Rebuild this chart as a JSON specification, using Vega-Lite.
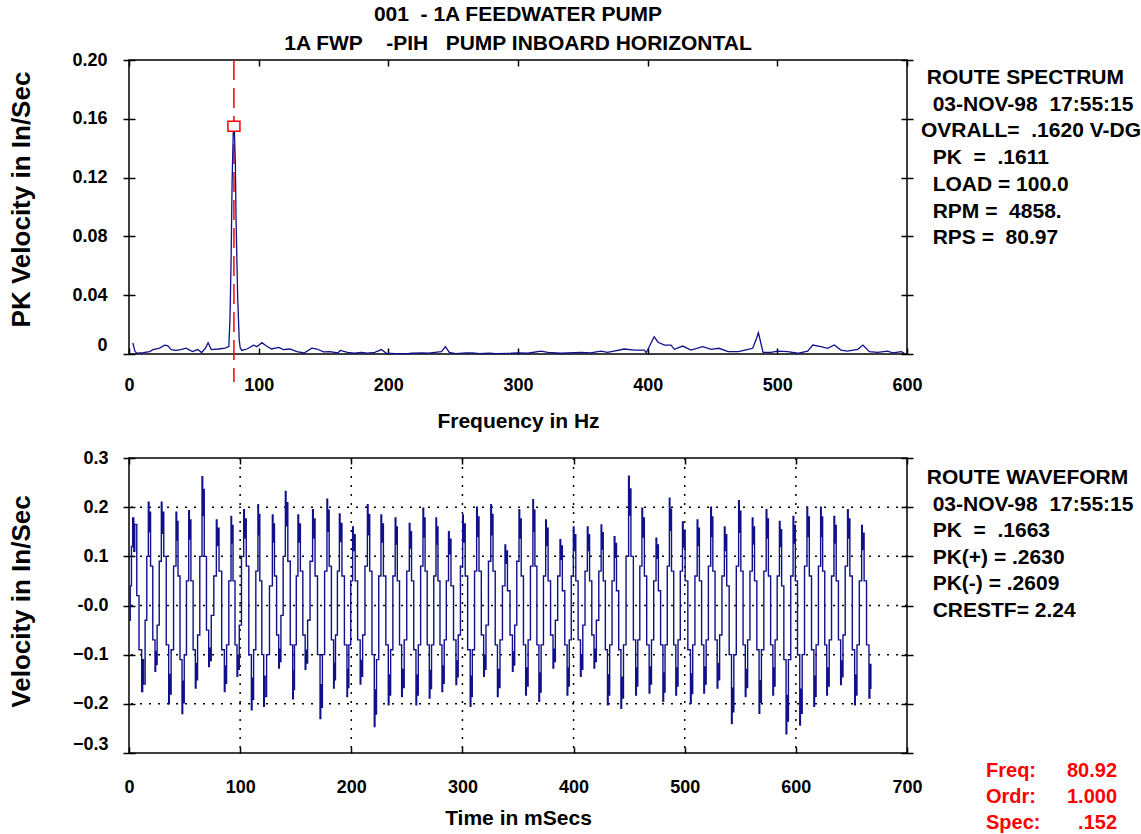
{
  "$schema": "https://vega.github.io/schema/vega-lite/v6.json",
  "background": "white",
  "padding": {"left": 7, "top": 3, "right": 5, "bottom": 5},
  "spacing": 16,
  "config": {
    "font": "Liberation Sans",
    "view": {"stroke": "black", "strokeWidth": 1.5},
    "axis": {
      "labelFont": "Liberation Sans", "labelFontSize": 18, "labelFontWeight": "bold", "labelColor": "black",
      "titleFont": "Liberation Sans", "titleFontSize": 21, "titleFontWeight": "bold", "titleColor": "black",
      "tickColor": "black", "tickWidth": 1.5, "domain": false, "grid": false
    }
  },
  "datasets": {
    "spectrum": [{"f":3,"v":0.0075},{"f":4.5,"v":0.002},{"f":6,"v":0.0005},{"f":11,"v":0.001},{"f":16,"v":0.0016},{"f":18.5,"v":0.003},{"f":23.6,"v":0.004},{"f":27.5,"v":0.006},{"f":30,"v":0.0055},{"f":32.6,"v":0.003},{"f":36,"v":0.0025},{"f":40,"v":0.003},{"f":44,"v":0.004},{"f":49,"v":0.0016},{"f":53,"v":0.003},{"f":56,"v":0.001},{"f":59,"v":0.004},{"f":61,"v":0.0077},{"f":63.5,"v":0.003},{"f":69,"v":0.0034},{"f":74,"v":0.004},{"f":77,"v":0.005},{"f":77.9,"v":0.025},{"f":78.7,"v":0.062},{"f":79.5,"v":0.116},{"f":80.4,"v":0.151},{"f":81.3,"v":0.151},{"f":82,"v":0.131},{"f":82.6,"v":0.09},{"f":83.8,"v":0.039},{"f":85,"v":0.0095},{"f":85.8,"v":0.004},{"f":87,"v":0.0024},{"f":91,"v":0.0034},{"f":96,"v":0.006},{"f":98.6,"v":0.005},{"f":102.5,"v":0.0077},{"f":106,"v":0.0054},{"f":110,"v":0.0034},{"f":115.5,"v":0.0045},{"f":119,"v":0.003},{"f":124,"v":0.0034},{"f":129.5,"v":0.0016},{"f":135,"v":0.0007},{"f":141,"v":0.004},{"f":145,"v":0.0034},{"f":150,"v":0.0014},{"f":155,"v":0.0016},{"f":161,"v":0.0007},{"f":163,"v":0.0024},{"f":168.5,"v":0.0011},{"f":174,"v":0.0005},{"f":179,"v":0.0011},{"f":184,"v":0.0005},{"f":189.5,"v":0.0011},{"f":194.6,"v":0.003},{"f":198.5,"v":0.0005},{"f":205,"v":0.0002},{"f":215,"v":0.0002},{"f":218,"v":0.0005},{"f":226,"v":0.0008},{"f":231,"v":0.0005},{"f":236,"v":0.0011},{"f":241,"v":0.0016},{"f":244,"v":0.005},{"f":247,"v":0.0011},{"f":252,"v":0.0002},{"f":260,"v":0.0008},{"f":265,"v":0.0008},{"f":270,"v":0.0002},{"f":278,"v":0.0005},{"f":283,"v":0.0002},{"f":294.6,"v":0.0005},{"f":300,"v":0.0008},{"f":307.5,"v":0.0005},{"f":317.7,"v":0.002},{"f":323,"v":0.0011},{"f":333,"v":0.0005},{"f":348.6,"v":0.0011},{"f":356,"v":0.0008},{"f":364,"v":0.002},{"f":369,"v":0.0011},{"f":374,"v":0.002},{"f":382,"v":0.0034},{"f":389.7,"v":0.0027},{"f":397.5,"v":0.0027},{"f":398.8,"v":0.0008},{"f":400,"v":0.0027},{"f":402.6,"v":0.0075},{"f":405,"v":0.0118},{"f":408,"v":0.008},{"f":413,"v":0.006},{"f":418,"v":0.0061},{"f":420.6,"v":0.0032},{"f":427,"v":0.0054},{"f":433.4,"v":0.0027},{"f":442.4,"v":0.005},{"f":449,"v":0.0032},{"f":455,"v":0.0039},{"f":462,"v":0.0016},{"f":470,"v":0.0016},{"f":477.5,"v":0.0032},{"f":481,"v":0.0039},{"f":484,"v":0.0107},{"f":485.4,"v":0.0145},{"f":487,"v":0.0085},{"f":489,"v":0.0011},{"f":495,"v":0.0011},{"f":500.3,"v":0.002},{"f":508,"v":0.0016},{"f":515.6,"v":0.0005},{"f":523.4,"v":0.002},{"f":527.3,"v":0.0061},{"f":533.6,"v":0.005},{"f":538.8,"v":0.0039},{"f":544,"v":0.0061},{"f":549,"v":0.0027},{"f":554,"v":0.002},{"f":562,"v":0.0032},{"f":566,"v":0.0061},{"f":571,"v":0.0016},{"f":577.4,"v":0.0011},{"f":585,"v":0.002},{"f":589,"v":0.0008},{"f":595.6,"v":0.0016},{"f":598,"v":0.0005}],
    "wave": [{"t":0,"v":-0.03},{"t":1.1,"v":0.04},{"t":2.2,"v":0.12},
      {"t":3.3,"v":0.178},{"t":4.3,"v":0.11},{"t":5.2,"v":0.165},{"t":7.0,"v":0.02},{"t":9.0,"v":-0.09},
      {"t":11.4,"v":-0.175},{"t":12.3,"v":-0.11},{"t":13.0,"v":-0.16},{"t":14.5,"v":-0.03},{"t":16.0,"v":0.1},
      {"t":17.4,"v":0.21},{"t":18,"v":0.15},{"t":18.6,"v":0.19},{"t":19.4,"v":0.08},{"t":21.4,"v":-0.07},
      {"t":23.4,"v":-0.134},{"t":24,"v":-0.094},{"t":24.6,"v":-0.12},{"t":25.3,"v":-0.04},{"t":27.2,"v":0.09},
      {"t":29.1,"v":0.21},{"t":29.7,"v":0.147},{"t":30.3,"v":0.19},{"t":31.3,"v":0.1},{"t":33.5,"v":-0.08},
      {"t":35.7,"v":-0.2},{"t":36.3,"v":-0.14},{"t":36.9,"v":-0.18},{"t":37.9,"v":-0.09},{"t":40.1,"v":0.08},
      {"t":42.3,"v":0.19},{"t":42.9,"v":0.133},{"t":43.4,"v":0.171},{"t":44.1,"v":0.06},{"t":45.9,"v":-0.11},
      {"t":47.7,"v":-0.22},{"t":48.3,"v":-0.154},{"t":48.9,"v":-0.198},{"t":49.7,"v":-0.1},{"t":51.7,"v":0.05},
      {"t":53.7,"v":0.193},{"t":54.3,"v":0.135},{"t":54.9,"v":0.174},{"t":55.7,"v":0.05},{"t":57.7,"v":-0.09},
      {"t":59.7,"v":-0.168},{"t":60.3,"v":-0.118},{"t":60.9,"v":-0.151},{"t":61.7,"v":-0.06},{"t":63.7,"v":0.1},
      {"t":65.7,"v":0.262},{"t":66.3,"v":0.183},{"t":66.9,"v":0.236},{"t":67.7,"v":0.1},{"t":69.7,"v":-0.05},
      {"t":71.7,"v":-0.124},{"t":72.3,"v":-0.087},{"t":72.9,"v":-0.112},{"t":74,"v":-0.02},{"t":76.3,"v":0.06},
      {"t":78.6,"v":0.174},{"t":79.2,"v":0.122},{"t":79.8,"v":0.157},{"t":81,"v":0.07},{"t":83.4,"v":-0.09},
      {"t":85.8,"v":-0.175},{"t":86.4,"v":-0.123},{"t":87,"v":-0.158},{"t":87.8,"v":-0.08},{"t":89.8,"v":0.05},
      {"t":91.8,"v":0.181},{"t":92.3,"v":0.127},{"t":92.9,"v":0.163},{"t":93.6,"v":0.05},{"t":95.4,"v":-0.08},
      {"t":97.2,"v":-0.144},{"t":97.8,"v":-0.101},{"t":98.4,"v":-0.13},{"t":99.2,"v":-0.04},{"t":101.2,"v":0.1},
      {"t":103.2,"v":0.195},{"t":103.8,"v":0.137},{"t":104.4,"v":0.176},{"t":105.5,"v":0.08},{"t":107.8,"v":-0.1},
      {"t":110.1,"v":-0.212},{"t":110.7,"v":-0.148},{"t":111.3,"v":-0.191},{"t":112.1,"v":-0.09},{"t":114.1,"v":0.07},
      {"t":116,"v":0.205},{"t":116.5,"v":0.144},{"t":117,"v":0.185},{"t":117.7,"v":0.05},{"t":119.5,"v":-0.1},
      {"t":121.2,"v":-0.205},{"t":121.8,"v":-0.144},{"t":122.4,"v":-0.185},{"t":123.8,"v":-0.1},{"t":126.4,"v":0.04},
      {"t":129,"v":0.184},{"t":129.6,"v":0.129},{"t":130.2,"v":0.166},{"t":130.9,"v":0.06},{"t":132.8,"v":-0.06},
      {"t":134.7,"v":-0.127},{"t":135.3,"v":-0.089},{"t":135.9,"v":-0.114},{"t":136.7,"v":-0.02},{"t":138.7,"v":0.1},
      {"t":140.7,"v":0.232},{"t":141.3,"v":0.162},{"t":141.9,"v":0.209},{"t":142.9,"v":0.09},{"t":145.1,"v":-0.08},
      {"t":147.3,"v":-0.19},{"t":147.8,"v":-0.133},{"t":148.3,"v":-0.171},{"t":148.9,"v":-0.08},{"t":150.5,"v":0.06},
      {"t":152,"v":0.184},{"t":152.6,"v":0.129},{"t":153.2,"v":0.166},{"t":154.2,"v":0.07},{"t":156.4,"v":-0.06},
      {"t":158.5,"v":-0.13},{"t":159.1,"v":-0.091},{"t":159.7,"v":-0.117},{"t":160.7,"v":-0.03},{"t":162.9,"v":0.09},
      {"t":165.2,"v":0.195},{"t":165.8,"v":0.137},{"t":166.4,"v":0.176},{"t":167.4,"v":0.06},{"t":169.6,"v":-0.1},
      {"t":171.9,"v":-0.23},{"t":172.5,"v":-0.161},{"t":173.1,"v":-0.207},{"t":174,"v":-0.1},{"t":176,"v":0.07},
      {"t":178.1,"v":0.216},{"t":178.7,"v":0.151},{"t":179.3,"v":0.194},{"t":180.1,"v":0.08},{"t":182.1,"v":-0.07},
      {"t":184.1,"v":-0.168},{"t":184.6,"v":-0.118},{"t":185.1,"v":-0.151},{"t":185.8,"v":-0.06},{"t":187.5,"v":0.07},
      {"t":189.3,"v":0.186},{"t":189.9,"v":0.13},{"t":190.5,"v":0.167},{"t":191.6,"v":0.06},{"t":193.8,"v":-0.08},
      {"t":196.1,"v":-0.185},{"t":196.6,"v":-0.13},{"t":197.1,"v":-0.167},{"t":197.8,"v":-0.08},{"t":199.5,"v":0.05},
      {"t":201.2,"v":0.16},{"t":201.8,"v":0.112},{"t":202.4,"v":0.144},{"t":203.5,"v":0.05},{"t":205.7,"v":-0.07},
      {"t":208,"v":-0.16},{"t":208.6,"v":-0.112},{"t":209.2,"v":-0.144},{"t":210.2,"v":-0.06},{"t":212.3,"v":0.08},
      {"t":214.5,"v":0.205},{"t":215.1,"v":0.144},{"t":215.7,"v":0.185},{"t":216.6,"v":0.07},{"t":218.6,"v":-0.1},
      {"t":220.7,"v":-0.246},{"t":221.3,"v":-0.172},{"t":221.9,"v":-0.221},{"t":222.7,"v":-0.11},{"t":224.7,"v":0.06},
      {"t":226.7,"v":0.184},{"t":227.3,"v":0.129},{"t":227.9,"v":0.166},{"t":228.9,"v":0.06},{"t":231.1,"v":-0.08},
      {"t":233.3,"v":-0.202},{"t":233.9,"v":-0.141},{"t":234.5,"v":-0.182},{"t":235.4,"v":-0.09},{"t":237.4,"v":0.06},
      {"t":239.5,"v":0.178},{"t":240.1,"v":0.125},{"t":240.6,"v":0.16},{"t":241.4,"v":0.05},{"t":243.4,"v":-0.08},
      {"t":245.3,"v":-0.185},{"t":245.9,"v":-0.13},{"t":246.5,"v":-0.167},{"t":247.6,"v":-0.07},{"t":249.9,"v":0.07},
      {"t":252.2,"v":0.167},{"t":252.8,"v":0.117},{"t":253.4,"v":0.15},{"t":254.2,"v":0.05},{"t":256.2,"v":-0.09},
      {"t":258.2,"v":-0.202},{"t":258.8,"v":-0.141},{"t":259.4,"v":-0.182},{"t":260.3,"v":-0.08},{"t":262.4,"v":0.08},
      {"t":264.5,"v":0.198},{"t":265.1,"v":0.139},{"t":265.7,"v":0.178},{"t":266.4,"v":0.07},{"t":268.3,"v":-0.08},
      {"t":270.2,"v":-0.188},{"t":270.8,"v":-0.132},{"t":271.4,"v":-0.169},{"t":272.2,"v":-0.08},{"t":274.2,"v":0.06},
      {"t":276.2,"v":0.178},{"t":276.7,"v":0.125},{"t":277.2,"v":0.16},{"t":278,"v":0.05},{"t":279.8,"v":-0.08},
      {"t":281.6,"v":-0.175},{"t":282.2,"v":-0.123},{"t":282.8,"v":-0.158},{"t":283.6,"v":-0.07},{"t":285.5,"v":0.05},
      {"t":287.5,"v":0.15},{"t":288.1,"v":0.105},{"t":288.7,"v":0.135},{"t":289.7,"v":0.04},{"t":292,"v":-0.07},
      {"t":294.2,"v":-0.161},{"t":294.8,"v":-0.113},{"t":295.4,"v":-0.145},{"t":296.2,"v":-0.06},{"t":298.2,"v":0.08},
      {"t":300.2,"v":0.184},{"t":300.8,"v":0.129},{"t":301.4,"v":0.166},{"t":302.5,"v":0.06},{"t":304.7,"v":-0.09},
      {"t":307,"v":-0.205},{"t":307.6,"v":-0.144},{"t":308.1,"v":-0.185},{"t":308.9,"v":-0.09},{"t":310.9,"v":0.07},
      {"t":312.8,"v":0.2},{"t":313.4,"v":0.14},{"t":314,"v":0.18},{"t":314.9,"v":0.07},{"t":317,"v":-0.06},
      {"t":319.1,"v":-0.144},{"t":319.7,"v":-0.101},{"t":320.3,"v":-0.13},{"t":321.2,"v":-0.04},{"t":323.4,"v":0.09},
      {"t":325.5,"v":0.205},{"t":326.1,"v":0.144},{"t":326.7,"v":0.185},{"t":327.5,"v":0.07},{"t":329.5,"v":-0.08},
      {"t":331.5,"v":-0.185},{"t":332.1,"v":-0.13},{"t":332.7,"v":-0.167},{"t":333.8,"v":-0.07},{"t":336,"v":0.04},
      {"t":338.3,"v":0.123},{"t":338.9,"v":0.086},{"t":339.5,"v":0.111},{"t":340.5,"v":0.03},{"t":342.8,"v":-0.06},
      {"t":345,"v":-0.134},{"t":345.6,"v":-0.094},{"t":346.2,"v":-0.121},{"t":347,"v":-0.04},{"t":348.9,"v":0.09},
      {"t":350.9,"v":0.195},{"t":351.5,"v":0.137},{"t":352.1,"v":0.176},{"t":352.9,"v":0.06},{"t":354.9,"v":-0.08},
      {"t":356.9,"v":-0.182},{"t":357.5,"v":-0.127},{"t":358.1,"v":-0.164},{"t":359.1,"v":-0.07},{"t":361.2,"v":0.08},
      {"t":363.4,"v":0.215},{"t":363.9,"v":0.151},{"t":364.4,"v":0.194},{"t":365.2,"v":0.08},{"t":367,"v":-0.08},
      {"t":368.8,"v":-0.195},{"t":369.4,"v":-0.137},{"t":370,"v":-0.176},{"t":370.8,"v":-0.08},{"t":372.9,"v":0.06},
      {"t":374.9,"v":0.174},{"t":375.5,"v":0.122},{"t":376.1,"v":0.157},{"t":377.1,"v":0.05},{"t":379.3,"v":-0.06},
      {"t":381.5,"v":-0.127},{"t":382.1,"v":-0.089},{"t":382.7,"v":-0.114},{"t":383.6,"v":-0.03},{"t":385.7,"v":0.06},
      {"t":387.8,"v":0.134},{"t":388.4,"v":0.094},{"t":389,"v":0.121},{"t":389.9,"v":0.03},{"t":392.1,"v":-0.08},
      {"t":394.2,"v":-0.182},{"t":394.8,"v":-0.127},{"t":395.3,"v":-0.164},{"t":396.1,"v":-0.07},{"t":397.9,"v":0.06},
      {"t":399.8,"v":0.16},{"t":400.4,"v":0.112},{"t":401,"v":0.144},{"t":402,"v":0.05},{"t":404.1,"v":-0.07},
      {"t":406.2,"v":-0.144},{"t":406.8,"v":-0.101},{"t":407.4,"v":-0.13},{"t":408.3,"v":-0.04},{"t":410.3,"v":0.07},
      {"t":412.4,"v":0.16},{"t":413,"v":0.112},{"t":413.6,"v":0.144},{"t":414.4,"v":0.05},{"t":416.4,"v":-0.06},
      {"t":418.4,"v":-0.127},{"t":419,"v":-0.089},{"t":419.6,"v":-0.114},{"t":420.5,"v":-0.03},{"t":422.7,"v":0.07},
      {"t":424.8,"v":0.164},{"t":425.3,"v":0.115},{"t":425.9,"v":0.148},{"t":426.7,"v":0.05},{"t":428.6,"v":-0.09},
      {"t":430.5,"v":-0.202},{"t":431.1,"v":-0.141},{"t":431.7,"v":-0.182},{"t":432.5,"v":-0.08},{"t":434.6,"v":0.05},
      {"t":436.6,"v":0.14},{"t":437.2,"v":0.098},{"t":437.8,"v":0.126},{"t":438.6,"v":0.03},{"t":440.6,"v":-0.09},
      {"t":442.6,"v":-0.209},{"t":443.2,"v":-0.146},{"t":443.8,"v":-0.188},{"t":444.9,"v":-0.08},{"t":447.2,"v":0.1},
      {"t":449.5,"v":0.263},{"t":450.1,"v":0.184},{"t":450.7,"v":0.237},{"t":451.6,"v":0.1},{"t":453.8,"v":-0.07},
      {"t":455.9,"v":-0.182},{"t":456.5,"v":-0.127},{"t":457,"v":-0.164},{"t":457.8,"v":-0.07},{"t":459.6,"v":0.08},
      {"t":461.5,"v":0.198},{"t":462.1,"v":0.139},{"t":462.7,"v":0.178},{"t":463.7,"v":0.06},{"t":465.8,"v":-0.08},
      {"t":468,"v":-0.178},{"t":468.6,"v":-0.125},{"t":469.2,"v":-0.16},{"t":470.1,"v":-0.07},{"t":472.1,"v":0.05},
      {"t":474.2,"v":0.137},{"t":474.8,"v":0.096},{"t":475.4,"v":0.123},{"t":476.3,"v":0.03},{"t":478.3,"v":-0.08},
      {"t":480.4,"v":-0.195},{"t":481,"v":-0.137},{"t":481.5,"v":-0.176},{"t":482.3,"v":-0.08},{"t":484.3,"v":0.08},
      {"t":486.2,"v":0.218},{"t":486.7,"v":0.153},{"t":487.3,"v":0.196},{"t":488.1,"v":0.07},{"t":490.1,"v":-0.08},
      {"t":492,"v":-0.182},{"t":492.6,"v":-0.127},{"t":493.2,"v":-0.164},{"t":494,"v":-0.07},{"t":496,"v":0.07},
      {"t":498,"v":0.17},{"t":498.6,"v":0.119},{"t":499.2,"v":0.153},{"t":500.4,"v":0.05},{"t":502.8,"v":-0.09},
      {"t":505.2,"v":-0.199},{"t":505.8,"v":-0.139},{"t":506.4,"v":-0.179},{"t":507.2,"v":-0.08},{"t":509.2,"v":0.06},
      {"t":511.2,"v":0.174},{"t":511.8,"v":0.122},{"t":512.4,"v":0.157},{"t":513.2,"v":0.05},{"t":515.2,"v":-0.08},
      {"t":517.2,"v":-0.178},{"t":517.8,"v":-0.125},{"t":518.4,"v":-0.16},{"t":519.3,"v":-0.07},{"t":521.3,"v":0.08},
      {"t":523.4,"v":0.2},{"t":524,"v":0.14},{"t":524.6,"v":0.18},{"t":525.3,"v":0.07},{"t":527.3,"v":-0.07},
      {"t":529.2,"v":-0.168},{"t":529.8,"v":-0.118},{"t":530.4,"v":-0.151},{"t":531.4,"v":-0.06},{"t":533.5,"v":0.06},
      {"t":535.7,"v":0.16},{"t":536.3,"v":0.112},{"t":536.9,"v":0.144},{"t":537.8,"v":0.04},{"t":540,"v":-0.1},
      {"t":542.1,"v":-0.24},{"t":542.7,"v":-0.168},{"t":543.3,"v":-0.216},{"t":544.2,"v":-0.1},{"t":546.4,"v":0.08},
      {"t":548.5,"v":0.213},{"t":549.1,"v":0.149},{"t":549.7,"v":0.192},{"t":550.5,"v":0.07},{"t":552.5,"v":-0.08},
      {"t":554.5,"v":-0.185},{"t":555.1,"v":-0.13},{"t":555.7,"v":-0.167},{"t":556.6,"v":-0.07},{"t":558.7,"v":0.07},
      {"t":560.8,"v":0.178},{"t":561.4,"v":0.125},{"t":562,"v":0.16},{"t":562.8,"v":0.05},{"t":564.9,"v":-0.09},
      {"t":566.9,"v":-0.219},{"t":567.5,"v":-0.153},{"t":568.1,"v":-0.197},{"t":569,"v":-0.09},{"t":571.2,"v":0.07},
      {"t":573.3,"v":0.195},{"t":573.9,"v":0.137},{"t":574.5,"v":0.176},{"t":575.3,"v":0.06},{"t":577.3,"v":-0.08},
      {"t":579.3,"v":-0.182},{"t":579.9,"v":-0.127},{"t":580.5,"v":-0.164},{"t":581.3,"v":-0.07},{"t":583.2,"v":0.06},
      {"t":585.2,"v":0.171},{"t":585.8,"v":0.12},{"t":586.4,"v":0.154},{"t":587.2,"v":0.04},{"t":589.2,"v":-0.11},
      {"t":591.2,"v":-0.261},{"t":591.8,"v":-0.183},{"t":592.4,"v":-0.235},{"t":593.3,"v":-0.11},{"t":595.4,"v":0.06},
      {"t":597.5,"v":0.181},{"t":598.1,"v":0.127},{"t":598.7,"v":0.163},{"t":599.5,"v":0.05},{"t":601.5,"v":-0.1},
      {"t":603.5,"v":-0.243},{"t":604.1,"v":-0.17},{"t":604.7,"v":-0.219},{"t":605.7,"v":-0.1},{"t":607.8,"v":0.08},
      {"t":610,"v":0.2},{"t":610.6,"v":0.14},{"t":611.2,"v":0.18},{"t":612.1,"v":0.06},{"t":614.1,"v":-0.09},
      {"t":616.2,"v":-0.205},{"t":616.8,"v":-0.144},{"t":617.4,"v":-0.185},{"t":618.2,"v":-0.08},{"t":620.3,"v":0.08},
      {"t":622.3,"v":0.2},{"t":622.8,"v":0.14},{"t":623.4,"v":0.18},{"t":624.1,"v":0.07},{"t":626,"v":-0.08},
      {"t":627.8,"v":-0.182},{"t":628.4,"v":-0.127},{"t":629,"v":-0.164},{"t":630,"v":-0.07},{"t":632.1,"v":0.06},
      {"t":634.3,"v":0.181},{"t":634.9,"v":0.127},{"t":635.5,"v":0.163},{"t":636.3,"v":0.05},{"t":638.3,"v":-0.07},
      {"t":640.3,"v":-0.161},{"t":640.9,"v":-0.113},{"t":641.5,"v":-0.145},{"t":642.4,"v":-0.06},{"t":644.4,"v":0.08},
      {"t":646.5,"v":0.195},{"t":647.1,"v":0.137},{"t":647.7,"v":0.176},{"t":648.6,"v":0.06},{"t":650.8,"v":-0.09},
      {"t":652.9,"v":-0.202},{"t":653.5,"v":-0.141},{"t":654.1,"v":-0.182},{"t":655,"v":-0.08},{"t":657.1,"v":0.05},
      {"t":659.2,"v":0.163},{"t":659.8,"v":0.114},{"t":660.4,"v":0.147},{"t":661.4,"v":0.05},{"t":663.6,"v":-0.08},
      {"t":665.8,"v":-0.188},{"t":666.6,"v":-0.12},{"t":667.5,"v":-0.17}],
    "gridx": [{"g":100},{"g":200},{"g":300},{"g":400},{"g":500},{"g":600}],
    "gridy": [{"g":-0.2},{"g":-0.1},{"g":0},{"g":0.1},{"g":0.2}]
  },
  "vconcat": [
    {
      "width": 778,
      "height": 294,
      "title": {
        "text": ["001\u00a0\u00a0- 1A FEEDWATER PUMP", "1A FWP\u00a0\u00a0\u00a0\u00a0-PIH\u00a0\u00a0\u00a0PUMP INBOARD HORIZONTAL"],
        "font": "Liberation Sans", "fontSize": 21, "fontWeight": "bold", "color": "black",
        "lineHeight": 29, "offset": -3, "anchor": "middle", "frame": "group"
      },
      "layer": [
        {
          "data": {"values": [{"f": 80.92, "top": 0.2, "bot": -0.019}]},
          "mark": {"type": "rule", "color": "#ff0000", "strokeWidth": 1.5, "strokeDash": [20, 8]},
          "encoding": {
            "x": {"field": "f", "type": "quantitative", "scale": {"domain": [0, 600], "nice": false, "zero": false},
              "axis": {"orient": "top", "values": [0,100,200,300,400,500,600], "offset": -6, "tickSize": 6, "labels": false, "title": null}},
            "y": {"field": "top", "type": "quantitative", "scale": {"domain": [0, 0.2], "nice": false},
              "axis": {"orient": "right", "values": [0,0.04,0.08,0.12,0.16,0.2], "offset": -6, "tickSize": 12, "labels": false, "title": null}},
            "y2": {"field": "bot"}
          }
        },
        {
          "data": {"name": "spectrum"},
          "mark": {"type": "line", "color": "#10108a", "strokeWidth": 1.3},
          "encoding": {
            "x": {"field": "f", "type": "quantitative", "scale": {"domain": [0, 600], "nice": false, "zero": false},
              "axis": {"orient": "bottom", "values": [0,100,200,300,400,500,600], "offset": -6, "tickSize": 6, "labelPadding": 22, "labelFlush": false,
                "title": "Frequency in Hz", "titleY": 73, "titleBaseline": "middle"}},
            "y": {"field": "v", "type": "quantitative", "scale": {"domain": [0, 0.2], "nice": false},
              "axis": {"orient": "left", "values": [0,0.04,0.08,0.12,0.16,0.2], "offset": -6, "tickSize": 12, "labelPadding": 16,
                "labelExpr": "datum.value == 0 ? '0' : format(datum.value, '.2f')",
                "labelBaseline": {"condition": {"test": "datum.value == 0", "value": "bottom"}, "value": "middle"},
                "title": "PK Velocity in In/Sec", "titleX": -114, "titleY": 139, "titleBaseline": "middle", "titleFontSize": 26}}
          }
        },
        {
          "data": {"values": [{"f": 80.92, "v": 0.155}]},
          "mark": {"type": "point", "shape": "M-1.2,-1H1.2V1H-1.2Z", "size": 100, "filled": true, "fill": "white", "stroke": "#ff0000", "strokeWidth": 1.5, "opacity": 1},
          "encoding": {
            "x": {"field": "f", "type": "quantitative", "scale": {"domain": [0, 600], "nice": false, "zero": false}, "axis": null},
            "y": {"field": "v", "type": "quantitative", "scale": {"domain": [0, 0.2], "nice": false}, "axis": null}
          }
        },
        {
          "data": {"values": [{"txt": "\u200b\u00a0ROUTE SPECTRUM\n\u200b\u00a0\u00a003-NOV-98\u00a0\u00a017:55:15\nOVRALL=\u00a0\u00a0.1620 V-DG\n\u200b\u00a0\u00a0PK\u00a0\u00a0=\u00a0\u00a0.1611\n\u200b\u00a0\u00a0LOAD = 100.0\n\u200b\u00a0\u00a0RPM =\u00a0\u00a04858.\n\u200b\u00a0\u00a0RPS =\u00a0\u00a080.97"}]},
          "mark": {"type": "text", "align": "left", "baseline": "top", "lineBreak": "\n", "lineHeight": 26.7, "font": "Liberation Sans", "fontSize": 21, "fontWeight": "bold", "color": "black"},
          "encoding": {
            "x": {"datum": 610.8, "type": "quantitative", "scale": {"domain": [0, 600], "nice": false, "zero": false}, "axis": null},
            "y": {"datum": 0.1952, "type": "quantitative", "scale": {"domain": [0, 0.2], "nice": false}, "axis": null},
            "text": {"field": "txt"}
          }
        }
      ],
      "resolve": {"axis": {"x": "independent", "y": "independent"}}
    },
    {
      "width": 778,
      "height": 295,
      "layer": [
        {
          "data": {"name": "gridx"},
          "mark": {"type": "rule", "color": "black", "strokeWidth": 1.5, "strokeDash": [2, 7]},
          "encoding": {
            "x": {"field": "g", "type": "quantitative", "scale": {"domain": [0, 700], "nice": false, "zero": false},
              "axis": {"orient": "top", "values": [0,100,200,300,400,500,600,700], "offset": -6, "tickSize": 6, "labels": false, "title": null}}
          }
        },
        {
          "data": {"name": "gridy"},
          "mark": {"type": "rule", "color": "black", "strokeWidth": 1.5, "strokeDash": [2, 7]},
          "encoding": {
            "y": {"field": "g", "type": "quantitative", "scale": {"domain": [-0.3, 0.3], "nice": false, "zero": false},
              "axis": {"orient": "right", "values": [-0.3,-0.2,-0.1,0,0.1,0.2,0.3], "offset": -6, "tickSize": 12, "labels": false, "title": null}}
          }
        },
        {
          "data": {"name": "wave"},
          "mark": {"type": "line", "color": "#10108a", "strokeWidth": 1.4, "interpolate": "step-after"},
          "encoding": {
            "x": {"field": "t", "type": "quantitative", "scale": {"domain": [0, 700], "nice": false, "zero": false},
              "axis": {"orient": "bottom", "values": [0,100,200,300,400,500,600,700], "offset": -6, "tickSize": 6, "labelPadding": 25, "labelFlush": false,
                "title": "Time in mSecs", "titleY": 71, "titleBaseline": "middle"}},
            "y": {"field": "v", "type": "quantitative", "scale": {"domain": [-0.3, 0.3], "nice": false, "zero": false},
              "axis": {"orient": "left", "values": [-0.3,-0.2,-0.1,0,0.1,0.2,0.3], "offset": -6, "tickSize": 12, "labelPadding": 15,
                "labelExpr": "datum.value == 0 ? '-0.0' : format(datum.value, '.1f')",
                "labelBaseline": {"condition": {"test": "datum.value == -0.3", "value": "bottom"}, "value": "middle"},
                "title": "Velocity in In/Sec", "titleX": -114, "titleY": 143, "titleBaseline": "middle", "titleFontSize": 26}}
          }
        },
        {
          "data": {"values": [{"txt": "\u200b\u00a0ROUTE WAVEFORM\n\u200b\u00a0\u00a003-NOV-98\u00a0\u00a017:55:15\n\u200b\u00a0\u00a0PK\u00a0\u00a0=\u00a0\u00a0.1663\n\u200b\u00a0\u00a0PK(+) = .2630\n\u200b\u00a0\u00a0PK(-) = .2609\n\u200b\u00a0\u00a0CRESTF= 2.24"}]},
          "mark": {"type": "text", "align": "left", "baseline": "top", "lineBreak": "\n", "lineHeight": 26.6, "font": "Liberation Sans", "fontSize": 21, "fontWeight": "bold", "color": "black"},
          "encoding": {
            "x": {"datum": 712.6, "type": "quantitative", "scale": {"domain": [0, 700], "nice": false, "zero": false}, "axis": null},
            "y": {"datum": 0.2817, "type": "quantitative", "scale": {"domain": [-0.3, 0.3], "nice": false, "zero": false}, "axis": null},
            "text": {"field": "txt"}
          }
        },
        {
          "data": {"values": [{"txt": "Freq:\nOrdr:\nSpec:"}]},
          "mark": {"type": "text", "align": "left", "baseline": "top", "lineBreak": "\n", "lineHeight": 26, "font": "Liberation Sans", "fontSize": 20, "fontWeight": "bold", "color": "#ff0000"},
          "encoding": {
            "x": {"datum": 771.1, "type": "quantitative", "scale": {"domain": [0, 700], "nice": false, "zero": false}, "axis": null},
            "y": {"datum": -0.3169, "type": "quantitative", "scale": {"domain": [-0.3, 0.3], "nice": false, "zero": false}, "axis": null},
            "text": {"field": "txt"}
          }
        },
        {
          "data": {"values": [{"txt": "80.92\n1.000\n.152"}]},
          "mark": {"type": "text", "align": "right", "baseline": "top", "lineBreak": "\n", "lineHeight": 26, "font": "Liberation Sans", "fontSize": 20, "fontWeight": "bold", "color": "#ff0000"},
          "encoding": {
            "x": {"datum": 889, "type": "quantitative", "scale": {"domain": [0, 700], "nice": false, "zero": false}, "axis": null},
            "y": {"datum": -0.3169, "type": "quantitative", "scale": {"domain": [-0.3, 0.3], "nice": false, "zero": false}, "axis": null},
            "text": {"field": "txt"}
          }
        }
      ],
      "resolve": {"axis": {"x": "independent", "y": "independent"}}
    }
  ]
}
